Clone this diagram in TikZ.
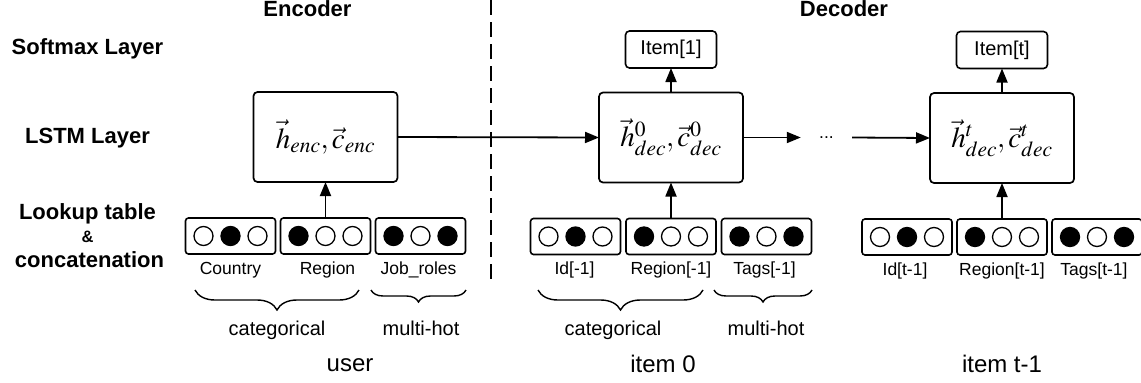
\documentclass[tikz,border=0pt]{standalone}
\usepackage{mathptmx}
\usepackage{fontspec}
\setmainfont{Liberation Sans}
\usetikzlibrary{arrows.meta,positioning,decorations.pathreplacing}

\tikzset{
  layer/.style={font=\fontsize{22}{26}\selectfont\bfseries, anchor=base, inner sep=0},
  lstm/.style={draw, line width=1.7pt, rounded corners=4pt, minimum width=144pt,
    minimum height=90pt, inner sep=0, outer sep=0, font=\fontsize{29}{34}\selectfont},
  lookup/.style={draw, line width=1.6pt, rounded corners=3pt, minimum width=90pt,
    minimum height=36pt, inner sep=0, outer sep=0},
  itembox/.style={draw, line width=1.6pt, rounded corners=4pt, minimum width=91pt,
    minimum height=37pt, inner sep=0, outer sep=0, font=\fontsize{20}{24}\selectfont},
  fieldlbl/.style={font=\fontsize{17.5}{21}\selectfont, anchor=base, inner sep=0},
  grouplbl/.style={font=\fontsize{20}{24}\selectfont, anchor=base, inner sep=0},
  inputlbl/.style={font=\fontsize{24}{28}\selectfont, anchor=base, inner sep=0},
  flow/.style={-{Triangle[length=14pt,width=11pt]}, line width=1.8pt},
  onehot/.style={line width=1.3pt},
  brc/.style={decorate, decoration={brace, mirror, amplitude=#1}, line width=1.4pt},
}

\begin{document}
\begin{tikzpicture}[x=1pt, y=-1pt]
\useasboundingbox (0,0) rectangle (1141,383);

% row titles
\node[layer] (tsoft) at (87.5,54.5) {Softmax Layer};
\node[layer] (tlstm) at (87.5,143) {LSTM Layer};
\node[layer] (tlook) at (87.5,219) {Lookup table};
\node[layer, font=\fontsize{16.5}{20}\selectfont\bfseries] (tamp) at (87.5,242.5) {\&};
\node[layer] (tconc) at (89.5,267.7) {concatenation};

\node[layer] (tenc) at (307.5,16) {Encoder};
\node[layer] (tdec) at (844,16) {Decoder};

\draw[line width=1.8pt, dash pattern=on 15pt off 7pt] (491,0) -- (491,280);

% encoder
\node[lstm] (enc) at (325.5,137) {$\vec{h}_{enc},\vec{c}_{enc}$};
\node[lookup, below=36pt of enc] (region) {};
\node[lookup, left=5pt of region] (country) {};
\node[lookup, right=5pt of region] (jobs) {};

% decoder, step 0
\node[lstm] (dec0) at (671,137.5) {$\vec{h}^{0}_{dec},\vec{c}^{0}_{dec}$};
\node[itembox, above=24.5pt of dec0] (item1) {Item[1]};
\node[lookup, below=36pt of dec0] (region0) {};
\node[lookup, left=5.5pt of region0] (id0) {};
\node[lookup, right=5.5pt of region0] (tags0) {};

\node[font=\fontsize{17.5}{21}\selectfont, minimum width=51pt, inner sep=0] (dots) at (826.5,137.5) {...};

% decoder, step t
\node[lstm] (dect) at (1002,138) {$\vec{h}^{t}_{dec},\vec{c}^{t}_{dec}$};
\node[itembox, above=24.5pt of dect] (itemt) {Item[t]};
\node[lookup, below=36pt of dect] (regiont) {};
\node[lookup, left=5pt of regiont] (idt) {};
\node[lookup, right=5pt of regiont] (tagst) {};

% one-hot / multi-hot dots
\foreach \bx/\fa/\fb/\fc in {country/white/black/white, region/black/white/white,
    jobs/black/white/black, id0/white/black/white, region0/black/white/white,
    tags0/black/white/black, idt/white/black/white, regiont/black/white/white,
    tagst/black/white/black}
  \foreach \f [count=\i from -1] in {\fa,\fb,\fc}
    \draw[onehot, fill=\f] ([xshift=\i*27pt]\bx.center) circle (9.5);

% field names
\node[fieldlbl] (lcountry) at ([yshift=-20pt]country.south) {Country};
\node[fieldlbl] (lregion) at ([yshift=-20pt,xshift=2pt]region.south) {Region};
\node[fieldlbl] (ljobs) at ([yshift=-20pt,xshift=-2pt]jobs.south) {Job\_roles};
\node[fieldlbl] (lid0) at ([yshift=-20pt,xshift=-1pt]id0.south) {Id[-1]};
\node[fieldlbl] (lregion0) at ([yshift=-20pt]region0.south) {Region[-1]};
\node[fieldlbl] (ltags0) at ([yshift=-20pt,xshift=-2pt]tags0.south) {Tags[-1]};
\node[fieldlbl] (lidt) at ([yshift=-20pt,xshift=-2pt]idt.south) {Id[t-1]};
\node[fieldlbl] (lregiont) at ([yshift=-20pt]regiont.south) {Region[t-1]};
\node[fieldlbl] (ltagst) at ([yshift=-20pt,xshift=-3pt]tagst.south) {Tags[t-1]};

% groups
\draw[brc=20] (195,290) -- (359,290);
\draw[brc=12] (371,290) -- (466,290);
\draw[brc=20] (538,290) -- (703,290);
\draw[brc=12] (714,290) -- (812,290);

\node[grouplbl] (gcat) at (277,335) {categorical};
\node[grouplbl] (gmulti) at (421,335) {multi-hot};
\node[grouplbl] (gcat0) at (613,335) {categorical};
\node[grouplbl] (gmulti0) at (766,335) {multi-hot};

\node[inputlbl] (iuser) at (350,371) {user};
\node[inputlbl] (iitem0) at (663,372) {item 0};
\node[inputlbl] (iitemt) at (1002,372) {item t-1};

% connections
\draw[flow] (region.north) -- (enc.south);
\draw[flow] (region0.north) -- (dec0.south);
\draw[flow] (regiont.north) -- (dect.south);
\draw[flow] (enc.east) -- (dec0.west);
\draw[flow] (dec0.east) -- (dots.west);
\draw[flow] (dots.east) -- (dect.west);
\draw[flow] (dec0.north) -- (item1.south);
\draw[flow] (dect.north) -- (itemt.south);
\end{tikzpicture}
\end{document}
